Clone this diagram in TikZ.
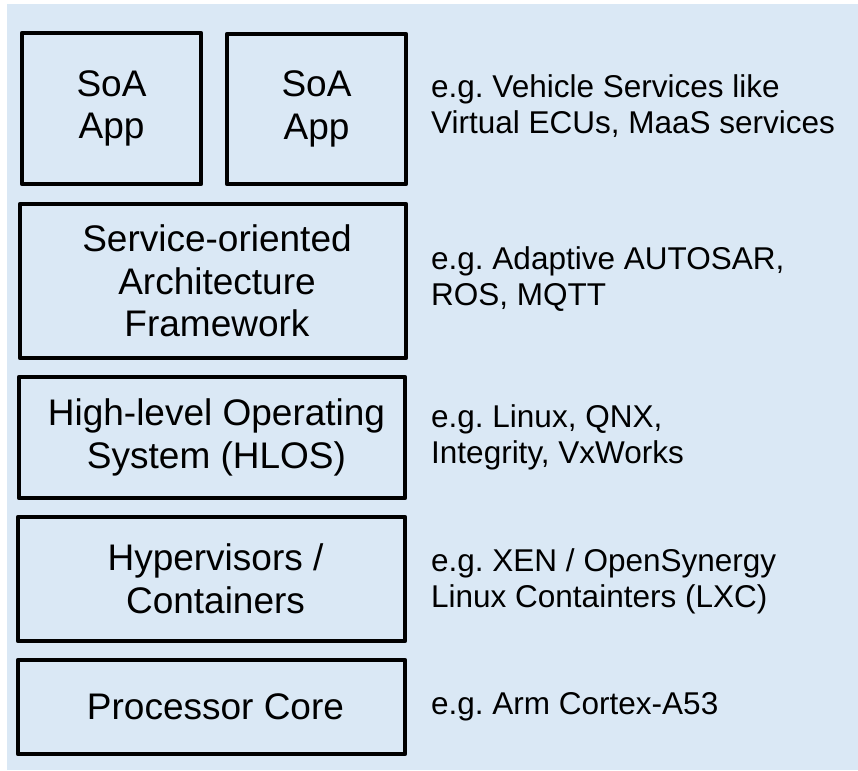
\documentclass[tikz,border=0pt]{standalone}
\usepackage{fontspec}
\setmainfont{Liberation Sans}
\definecolor{bgblue}{HTML}{DAE8F5}
\begin{document}
\frenchspacing
\begin{tikzpicture}[x=1pt,y=1pt,
  layerbox/.style={draw=black, line width=4.5pt, line join=round, fill=bgblue,
    align=center, inner sep=0pt, font=\fontsize{37}{42.5}\selectfont},
  boxtext/.style={align=center, inner sep=0pt, font=\fontsize{37}{42.5}\selectfont},
  note/.style={anchor=west, align=left, inner sep=0pt, font=\fontsize{31.5}{36}\selectfont}]
\useasboundingbox (0,0) rectangle (858,-770);
\fill[bgblue] (7,-4) rectangle (858,-770);

\node[layerbox, minimum width=179, minimum height=151] (app1) at (111.5,-108.5) {SoA\\App};
\node[layerbox, minimum width=179, minimum height=150] (app2) at (316.5,-109) {SoA\\App};
\node[layerbox, minimum width=386, minimum height=154] (soa) at (213,-281) {};
\node[layerbox, minimum width=386, minimum height=121] (hlos) at (212,-437.5) {};
\node[layerbox, minimum width=387, minimum height=124] (hyp) at (211.5,-579) {};
\node[layerbox, minimum width=387, minimum height=94] (proc) at (211.5,-707) {};

\node[boxtext] (soat) at ([xshift=4]soa.center) {Service-oriented\\Architecture\\Framework};
\node[boxtext] (hlost) at ([xshift=4.5]hlos.center) {High-level Operating\\System (HLOS)};
\node[boxtext] (hypt) at ([xshift=4]hyp.center) {Hypervisors /\\Containers};
\node[boxtext] (proct) at ([xshift=4]proc.center) {Processor Core};

\node[note] (n1) at (431,-106) {e.g. Vehicle Services like\\Virtual ECUs, MaaS services};
\node[note] (n2) at (431,-279) {e.g. Adaptive AUTOSAR,\\ROS, MQTT};
\node[note] (n3) at (431,-437) {e.g. Linux, QNX,\\Integrity, VxWorks};
\node[note] (n4) at (431,-581) {e.g. XEN / OpenSynergy\\Linux Containters (LXC)};
\node[note] (n5) at (431,-707) {e.g. Arm Cortex-A53};
\end{tikzpicture}
\end{document}
